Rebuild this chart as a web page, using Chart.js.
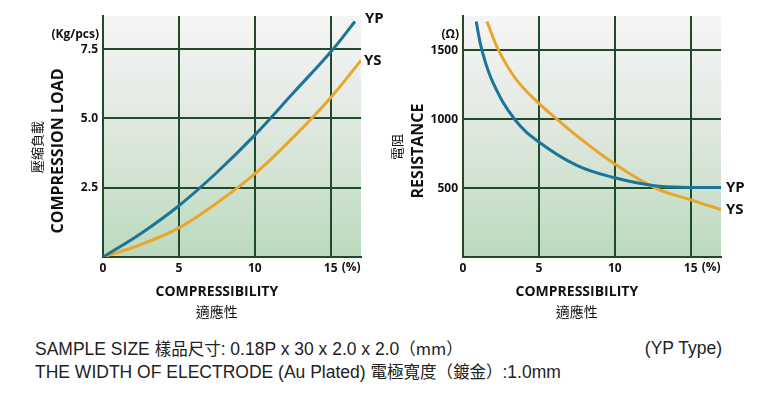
<!DOCTYPE html>
<html>
<head>
<meta charset="utf-8">
<script src="https://cdn.jsdelivr.net/npm/chart.js@4/dist/chart.umd.min.js"></script>
<style>
  html, body { margin: 0; padding: 0; background: #fff; }
  #wrap { position: relative; width: 766px; height: 393px; overflow: hidden; }
  #loadChart { position: absolute; left: 0; top: 0; }
  #resChart { position: absolute; left: 390px; top: 0; }
  .note {
    position: absolute; left: 35px; top: 337px;
    font-family: "Liberation Sans", "Noto Sans CJK TC", sans-serif;
    font-size: 17.5px; line-height: 22px; color: #222; white-space: nowrap;
  }
  .note .cjk { font-family: "Noto Sans CJK TC", sans-serif; font-size: 16.5px; }
  .type {
    position: absolute; right: 44px; top: 337px;
    font-family: "Liberation Sans", sans-serif;
    font-size: 17.5px; line-height: 22px; color: #222;
  }
</style>
</head>
<body>
<div id="wrap">
  <canvas id="loadChart" width="390" height="320"></canvas>
  <canvas id="resChart" width="376" height="320"></canvas>
  <div class="note">
    SAMPLE SIZE <span class="cjk">樣品尺寸</span>: 0.18P x 30 x 2.0 x 2.0<span class="cjk">（mm）</span><br>
    THE WIDTH OF ELECTRODE (Au Plated) <span class="cjk">電極寬度（鍍金）</span>:1.0mm
  </div>
  <div class="type">(YP Type)</div>
</div>

<script>
// --- data ---
const seriesNames = ['YP', 'YS'];
const xTicks = [0, 5, 10, 15];

// compression load (Kg/pcs) vs compressibility (%)
const loadYpX = [0, 2.5, 5, 7.5, 10, 12.5, 15, 16.6];
const loadYpY = [0, 0.85, 1.85, 3.05, 4.4, 5.9, 7.4, 8.5];
const loadYsX = [0, 2.5, 5, 7.5, 10, 12.5, 15, 17];
const loadYsY = [0, 0.45, 1.05, 1.95, 3.0, 4.3, 5.75, 7.1];
const loadTicks = [2.5, 5.0, 7.5];

// resistance (Ω) vs compressibility (%)
const resYpX = [0.87, 1.25, 2, 3.4, 5, 7.5, 10, 12.5, 15, 17];
const resYpY = [1710, 1500, 1260, 1000, 835, 665, 575, 520, 505, 505];
const resYsX = [1.58, 2.35, 3.5, 5, 6.2, 7.5, 10, 12.7, 15, 17];
const resYsY = [1710, 1500, 1290, 1115, 1000, 880, 675, 500, 415, 345];
const resTicks = [500, 1000, 1500];

const BLUE = '#1b7598';
const ORANGE = '#e9a52c';
const GRID = '#1f4b2b';
const TXT = '#111';
const FONT = '"Open Sans", "DejaVu Sans", sans-serif';
const CJK = '"Noto Sans CJK TC", sans-serif';

function pts(xs, ys) {
  return xs.map((x, i) => ({ x: x, y: ys[i] }));
}

// gradient backdrop behind the grid
const bgPlugin = {
  id: 'bg',
  beforeDraw(chart) {
    const { ctx, chartArea: a } = chart;
    const g = ctx.createLinearGradient(0, a.top, 0, a.bottom);
    g.addColorStop(0, '#f5f5f5');
    g.addColorStop(0.35, '#e6ebe6');
    g.addColorStop(1, '#bcdabd');
    ctx.save();
    ctx.fillStyle = g;
    ctx.fillRect(a.left, a.top, a.right - a.left, a.bottom - a.top);
    ctx.restore();
  }
};

// axis titles, units and series end labels
const textPlugin = {
  id: 'texts',
  afterDraw(chart, args, opts) {
    const { ctx, chartArea: a, scales } = chart;
    const xs = scales.x;
    ctx.save();
    ctx.fillStyle = TXT;
    ctx.textBaseline = 'middle';

    // unit above the y ticks
    ctx.font = 'bold 12px ' + FONT;
    ctx.textAlign = 'right';
    ctx.fillText(opts.unit, a.left - 4, 35);

    // "(%)" after the 15 tick
    ctx.textAlign = 'left';
    ctx.fillText('(%)', xs.getPixelForValue(15) + 11, a.bottom + 11);

    // x title
    const cx = xs.getPixelForValue(7.5);
    ctx.textAlign = 'center';
    ctx.font = 'bold 14px ' + FONT;
    ctx.fillText('COMPRESSIBILITY', cx, a.bottom + 35);
    ctx.font = '14px ' + CJK;
    ctx.fillText('適應性', cx, a.bottom + 55);

    // y titles (rotated)
    const cy = a.bottom - 106;
    ctx.save();
    ctx.translate(a.left - 45, cy);
    ctx.rotate(-Math.PI / 2);
    ctx.font = 'bold 16px ' + FONT;
    ctx.fillText(opts.yTitle, 0, 0);
    ctx.restore();
    ctx.save();
    ctx.translate(a.left - 66, cy - 4);
    ctx.rotate(-Math.PI / 2);
    ctx.font = '13px ' + CJK;
    ctx.fillText(opts.yTitleCjk, 0, 0);
    ctx.restore();

    // series labels at the end of each line
    ctx.font = 'bold 15px ' + FONT;
    ctx.textAlign = 'left';
    chart.data.datasets.forEach((ds, i) => {
      const meta = chart.getDatasetMeta(i);
      const last = meta.data[meta.data.length - 1];
      const off = ds.endOffset || [5, 0];
      ctx.fillText(ds.label, last.x + off[0], last.y + off[1]);
    });
    ctx.restore();
  }
};

function makeChart(el, cfg) {
  return new Chart(document.getElementById(el), {
    type: 'line',
    data: {
      datasets: [
        { label: seriesNames[0], data: pts(cfg.ypX, cfg.ypY), borderColor: BLUE, endOffset: cfg.ypOff },
        { label: seriesNames[1], data: pts(cfg.ysX, cfg.ysY), borderColor: ORANGE, endOffset: cfg.ysOff }
      ].map(d => Object.assign(d, {
        borderWidth: 3,
        pointRadius: 0,
        fill: false,
        tension: 0.4
      }))
    },
    options: {
      responsive: false,
      animation: false,
      devicePixelRatio: 1,
      layout: { padding: { left: 0, top: 16, right: cfg.padRight, bottom: 0 } },
      plugins: {
        legend: { display: false },
        tooltip: { enabled: false },
        texts: { unit: cfg.unit, yTitle: cfg.yTitle, yTitleCjk: cfg.yTitleCjk }
      },
      scales: {
        x: {
          type: 'linear',
          min: 0, max: 17,
          afterBuildTicks: s => { s.ticks = xTicks.map(v => ({ value: v })); },
          afterFit: s => { s.height = 63; },
          ticks: {
            padding: 4,
            color: TXT,
            font: { family: FONT, size: 12, weight: 'bold' },
            callback: v => String(v)
          },
          grid: { color: GRID, lineWidth: 2, drawTicks: false },
          border: { color: GRID, width: 2 }
        },
        y: {
          type: 'linear',
          min: 0, max: cfg.yMax,
          afterBuildTicks: s => { s.ticks = [0].concat(cfg.yTicks).map(v => ({ value: v })); },
          afterFit: s => { s.width = cfg.yWidth; },
          ticks: {
            padding: 5,
            color: TXT,
            font: { family: FONT, size: 12, weight: 'bold' },
            callback: v => v === 0 ? '' : cfg.fmt(v)
          },
          grid: { color: GRID, lineWidth: 2, drawTicks: false },
          border: { color: GRID, width: 2 }
        }
      }
    },
    plugins: [bgPlugin, textPlugin]
  });
}

makeChart('loadChart', {
  ypX: loadYpX, ypY: loadYpY, ysX: loadYsX, ysY: loadYsY,
  yTicks: loadTicks, yMax: 8.7, yWidth: 103, padRight: 29,
  fmt: v => v.toFixed(1),
  unit: '(Kg/pcs)', yTitle: 'COMPRESSION LOAD', yTitleCjk: '壓縮負載',
  ypOff: [10, -3], ysOff: [3, 0]
});

makeChart('resChart', {
  ypX: resYpX, ypY: resYpY, ysX: resYsX, ysY: resYsY,
  yTicks: resTicks, yMax: 1750, yWidth: 73, padRight: 45,
  fmt: v => String(v),
  unit: '(Ω)', yTitle: 'RESISTANCE', yTitleCjk: '電阻',
  ypOff: [5, 0], ysOff: [5, 0]
});
</script>
</body>
</html>
